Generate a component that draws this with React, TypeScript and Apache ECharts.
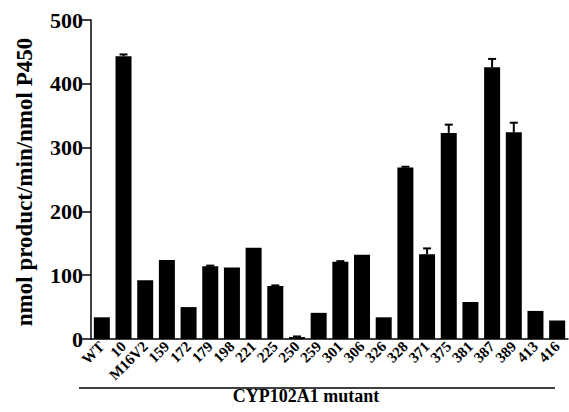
import React, { useEffect, useRef } from "react";
import * as echarts from "echarts";

const categories = ["WT", "10", "M16V2", "159", "172", "179", "198", "221", "225", "250", "259", "301", "306", "326", "328", "371", "375", "381", "387", "389", "413", "416"];
const activity = [34, 443, 92, 124, 50, 114, 112, 143, 83, 3, 41, 121, 132, 34, 269, 133, 323, 58, 426, 324, 44, 29];
const errors = [0, 3, 0, 0, 0, 1, 0, 0, 1, 1, 0, 1, 0, 0, 1, 9, 13, 0, 13, 15, 0, 0];
const yTicks = [0, 100, 200, 300, 400, 500];

const FONT = "'Liberation Serif', 'Times New Roman', serif";

export default function App() {
  const ref = useRef<HTMLDivElement>(null);
  useEffect(() => {
    if (!ref.current) return;
    const chart = echarts.init(ref.current, null, { renderer: "svg" });
    const errData = activity.map((v, i) => [i, v, errors[i]]);
    chart.setOption({
      animation: false,
      backgroundColor: "#ffffff",
      grid: { left: 91, right: 1, top: 20, bottom: 73, containLabel: false },
      xAxis: {
        type: "category",
        data: categories,
        axisLine: { lineStyle: { color: "#000", width: 1.5 } },
        axisTick: { alignWithLabel: true, length: 5, lineStyle: { color: "#000", width: 1.5 } },
        axisLabel: {
          rotate: 45,
          interval: 0,
          margin: 5,
          color: "#000",
          fontFamily: FONT,
          fontWeight: "bold",
          fontSize: 15,
        },
      },
      yAxis: {
        type: "value",
        min: yTicks[0],
        max: yTicks[yTicks.length - 1],
        interval: 100,
        splitLine: { show: false },
        axisLine: { show: true, lineStyle: { color: "#000", width: 1.5 } },
        axisTick: { show: true, length: 9, lineStyle: { color: "#000", width: 1.5 } },
        axisLabel: {
          color: "#000",
          fontFamily: FONT,
          fontWeight: "bold",
          fontSize: 22,
          margin: 8,
        },
      },
      graphic: [
        {
          type: "text",
          x: 24,
          y: 182,
          rotation: Math.PI / 2,
          style: {
            text: "nmol product/min/nmol P450",
            fill: "#000",
            font: `bold 23px ${FONT}`,
            align: "center",
            verticalAlign: "middle",
          },
        },
        {
          type: "line",
          shape: { x1: 79, y1: 388, x2: 555, y2: 388 },
          style: { stroke: "#000", lineWidth: 1.5 },
        },
        {
          type: "text",
          x: 306,
          y: 396,
          style: {
            text: "CYP102A1 mutant",
            fill: "#000",
            font: `bold 18px ${FONT}`,
            align: "center",
            verticalAlign: "middle",
          },
        },
      ],
      series: [
        {
          type: "bar",
          data: activity,
          barWidth: 16,
          itemStyle: { color: "#000" },
        },
        {
          type: "custom",
          data: errData,
          z: 3,
          renderItem: (params: any, api: any) => {
            const i = api.value(0);
            const v = api.value(1);
            const e = api.value(2);
            if (!e) return { type: "group", children: [] };
            const base = api.coord([i, v]);
            const top = api.coord([i, v + e]);
            const hw = 4;
            return {
              type: "group",
              children: [
                { type: "line", shape: { x1: base[0], y1: base[1], x2: top[0], y2: top[1] }, style: { stroke: "#000", lineWidth: 2 } },
                { type: "line", shape: { x1: top[0] - hw, y1: top[1], x2: top[0] + hw, y2: top[1] }, style: { stroke: "#000", lineWidth: 2 } },
              ],
            };
          },
        },
      ],
    });
    return () => chart.dispose();
  }, []);
  return <div ref={ref} style={{ position: "fixed", left: 0, top: 0, width: 569, height: 412 }} />;
}
